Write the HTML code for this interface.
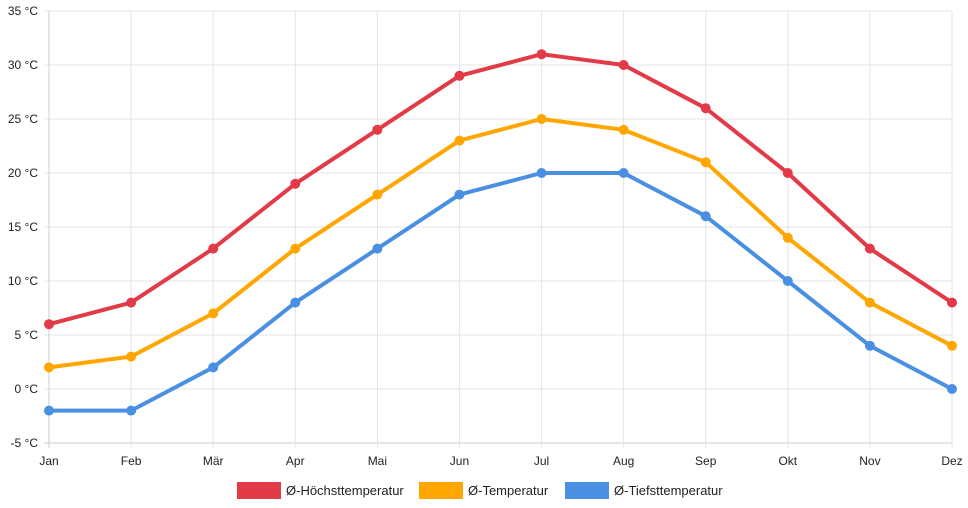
<!DOCTYPE html>
<html><head><meta charset="utf-8"><style>
body{margin:0;background:#fff;}
svg{display:block;font-family:"Liberation Sans",sans-serif;}
</style></head><body>
<svg id="c" width="968" height="508"></svg>
<script>
const months=["Jan","Feb","Mär","Apr","Mai","Jun","Jul","Aug","Sep","Okt","Nov","Dez"];
const high=[6,8,13,19,24,29,31,30,26,20,13,8];
const mean=[2,3,7,13,18,23,25,24,21,14,8,4];
const low=[-2,-2,2,8,13,18,20,20,16,10,4,0];
const yTicks=[-5,0,5,10,15,20,25,30,35];
const seriesNames=["Ø-Höchsttemperatur","Ø-Temperatur","Ø-Tiefsttemperatur"];
const NS="http://www.w3.org/2000/svg";
const svg=document.getElementById('c');
const x0=49,x1=952,yTop=11,yBot=443;
const xs=i=>x0+i*(x1-x0)/(months.length-1);
const ys=v=>yBot-(v+5)*(yBot-yTop)/40;
function el(t,a,p){const e=document.createElementNS(NS,t);for(const k in a)e.setAttribute(k,a[k]);(p||svg).appendChild(e);return e;}
yTicks.forEach(v=>{
const l=el('line',{x1:x0-5,x2:x1,y1:ys(v),y2:ys(v),stroke:v===-5?'#ccc':'#e5e5e5','stroke-width':1});


const t=el('text',{x:38,y:ys(v)+4,'text-anchor':'end','font-size':12,fill:'#222'});
t.textContent=v+' °C';


});
months.forEach((m,i)=>{
const l=el('line',{x1:xs(i),x2:xs(i),y1:yTop,y2:yBot+5,stroke:i===0?'#ccc':'#e5e5e5','stroke-width':1});


const t=el('text',{x:xs(i),y:465,'text-anchor':'middle','font-size':12,fill:'#222'});
t.textContent=m;


});
const series=[[high,'#e23a47'],[mean,'#ffa600'],[low,'#4a90e2']];
series.forEach(([d,c],si)=>{
const g=el('g',{});


const p=el('polyline',{points:d.map((v,i)=>xs(i)+','+ys(v)).join(' '),fill:'none',stroke:c,'stroke-width':4,'stroke-linejoin':'round'},g);


d.forEach((v,i)=>{
const pt=el('circle',{cx:xs(i),cy:ys(v),r:5,fill:c},g);


});
});
const lx=[237,419,565];
seriesNames.forEach((n,i)=>{
const g=el('g',{});


el('rect',{x:lx[i],y:482,width:44,height:17,fill:series[i][1]},g);
const t=el('text',{x:lx[i]+49,y:495,'font-size':13,fill:'#222'},g);
t.textContent=n;
});
</script>
</body></html>
